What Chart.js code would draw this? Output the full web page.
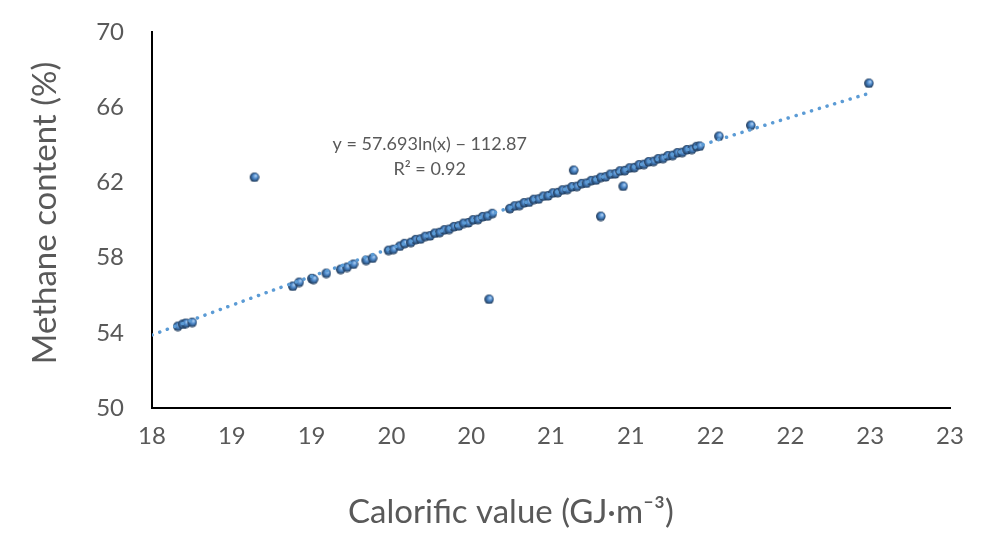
<!DOCTYPE html>
<html>
<head>
<meta charset="utf-8">
<script src="https://cdn.jsdelivr.net/npm/chart.js@4/dist/chart.umd.min.js"></script>
<style>
  html, body { margin: 0; padding: 0; background: #fff; }
  #wrap { width: 987px; height: 545px; }
</style>
</head>
<body>
<div id="wrap"><canvas id="chart"></canvas></div>
<script>
// calorific value (GJ/m3) and methane content (%)
const calorific = [
    18.16, 18.19, 18.21, 18.25, 18.64,
    18.88, 18.92, 19.00, 19.01, 19.09, 19.18, 19.22, 19.26, 19.34, 19.38, 19.48, 19.51,
    19.55, 19.58, 19.62, 19.65, 19.68, 19.71, 19.74, 19.77, 19.80, 19.83, 19.86, 19.89,
    19.92, 19.95, 19.98, 20.01, 20.04, 20.07, 20.10, 20.11, 20.13, 20.24, 20.27, 20.30,
    20.33, 20.36, 20.39, 20.42, 20.45, 20.48, 20.51, 20.54, 20.57, 20.60, 20.63, 20.64,
    20.66, 20.69, 20.72, 20.75, 20.78, 20.81, 20.81, 20.84, 20.87, 20.90, 20.93, 20.95,
    20.96, 20.99, 21.02, 21.05, 21.08, 21.11, 21.14, 21.17, 21.20, 21.23, 21.26, 21.29,
    21.32, 21.35, 21.38, 21.41, 21.43, 21.55, 21.75, 22.49
];
const methane = [
    54.36, 54.47, 54.52, 54.57, 62.29,
    56.49, 56.70, 56.90, 56.86, 57.18, 57.39, 57.50, 57.66, 57.87, 57.98, 58.40, 58.45,
    58.62, 58.76, 58.82, 58.97, 59.00, 59.14, 59.17, 59.31, 59.35, 59.49, 59.52, 59.66,
    59.70, 59.84, 59.87, 60.02, 60.04, 60.19, 60.22, 55.80, 60.36, 60.62, 60.76, 60.79,
    60.93, 60.96, 61.11, 61.13, 61.28, 61.30, 61.45, 61.47, 61.61, 61.64, 61.78, 62.66,
    61.80, 61.95, 61.97, 62.11, 62.14, 60.21, 62.28, 62.31, 62.45, 62.47, 62.62, 61.81,
    62.64, 62.78, 62.80, 62.95, 62.97, 63.11, 63.13, 63.27, 63.29, 63.43, 63.45, 63.59,
    63.61, 63.75, 63.77, 63.92, 63.94, 64.47, 65.05, 67.29
];

// logarithmic trendline as printed on the chart
const trendA = 57.693;
const trendB = -112.87;
const trendX = [18, 18.5, 19, 19.5, 20, 20.5, 21, 21.5, 22, 22.49];
const trendLabel = 'y = 57.693ln(x) \u2212 112.87';
const r2Label = 'R\u00b2 = 0.92';

const xTickLabels = ['18', '19', '19', '20', '20', '21', '21', '22', '22', '23', '23'];
const yTicks = [50, 54, 58, 62, 66, 70];
const xTitle = 'Calorific value (GJ\u00b7m\u207b\u00b3)';
const yTitle = 'Methane content (%)';

const GREY = '#595959';
const FONT = 'Lato, "Open Sans", sans-serif';

// shaded ball marker
function makeBall(r) {
    const c = document.createElement('canvas');
    c.width = c.height = r * 2 + 2;
    const g = c.getContext('2d');
    const cx = r + 1, cy = r + 1;
    const grad = g.createRadialGradient(cx + r * 0.3, cy - r * 0.35, r * 0.1, cx, cy, r);
    grad.addColorStop(0, '#a9cdf2');
    grad.addColorStop(0.45, '#4a86c8');
    grad.addColorStop(1, '#1d3552');
    g.fillStyle = grad;
    g.beginPath();
    g.arc(cx, cy, r, 0, Math.PI * 2);
    g.fill();
    return c;
}
const ball = makeBall(4.8);

const points = calorific.map((x, i) => ({ x: x, y: methane[i] }));
const trend = trendX.map(x => ({ x: x, y: trendA * Math.log(x) + trendB }));

// equation text and axis titles
const textPlugin = {
    id: 'texts',
    afterDraw(chart) {
        const ctx = chart.ctx;
        const xs = chart.scales.x, ys = chart.scales.y;
        const px = xs.getPixelForValue(19.74);
        ctx.save();
        ctx.fillStyle = GREY;
        ctx.textAlign = 'center';
        ctx.textBaseline = 'middle';
        ctx.font = '18px ' + FONT;
        ctx.fillText(trendLabel, px, ys.getPixelForValue(64.04));
        ctx.fillText(r2Label, px, ys.getPixelForValue(62.71));

        ctx.font = '33px ' + FONT;
        ctx.fillText(xTitle, 511, 512);
        ctx.translate(45, 213);
        ctx.rotate(-Math.PI / 2);
        ctx.fillText(yTitle, 0, 0);
        ctx.restore();
    }
};

new Chart(document.getElementById('chart'), {
    type: 'scatter',
    data: {
        datasets: [
            {
                label: 'Trend',
                type: 'line',
                data: trend,
                borderColor: '#5b9bd5',
                borderWidth: 3.5,
                borderDash: [0.1, 8],
                borderCapStyle: 'round',
                pointRadius: 0,
                tension: 0.4,
                fill: false,
                order: 0
            },
            {
                label: 'Methane content',
                data: points,
                pointStyle: ball,
                pointRadius: 4.8,
                order: 1
            }
        ]
    },
    plugins: [textPlugin],
    options: {
        responsive: true,
        maintainAspectRatio: false,
        animation: false,
        layout: { padding: { top: 32, right: 37, left: 0, bottom: 0 } },
        plugins: {
            legend: { display: false },
            tooltip: { enabled: false }
        },
        scales: {
            x: {
                type: 'linear',
                min: 18,
                max: 23,
                afterBuildTicks(scale) {
                    scale.ticks = xTickLabels.map((t, i) => ({ value: 18 + i * 0.5 }));
                },
                afterFit(scale) {
                    scale.height = 137;
                    scale.paddingLeft = 0;
                    scale.paddingRight = 0;
                },
                grid: { display: false, drawTicks: false },
                border: { color: '#000', width: 2 },
                ticks: {
                    color: GREY,
                    font: { family: FONT, size: 24 },
                    padding: 14,
                    maxRotation: 0,
                    autoSkip: false,
                    callback: (v, i) => xTickLabels[i]
                }
            },
            y: {
                min: 50,
                max: 70,
                afterBuildTicks(scale) {
                    scale.ticks = yTicks.map(v => ({ value: v }));
                },
                afterFit(scale) {
                    scale.width = 152;
                    scale.paddingTop = 0;
                    scale.paddingBottom = 0;
                },
                grid: { display: false, drawTicks: false },
                border: { color: '#000', width: 2 },
                ticks: {
                    color: GREY,
                    font: { family: FONT, size: 24 },
                    padding: 28
                }
            }
        }
    }
});
</script>
</body>
</html>
